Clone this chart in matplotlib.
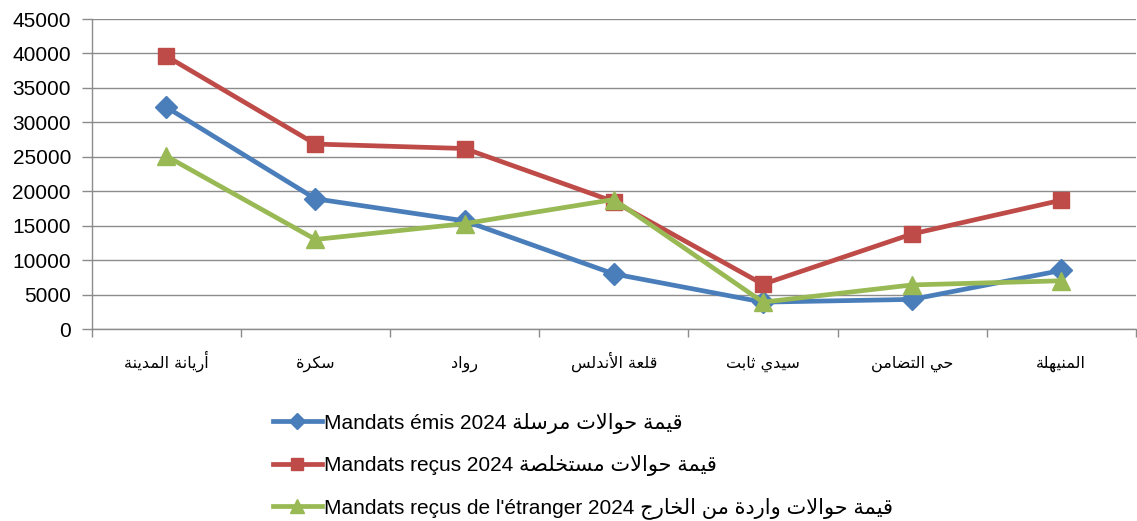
import re
import matplotlib
matplotlib.use("Agg")
import matplotlib.pyplot as plt
from matplotlib.ticker import FixedLocator, MultipleLocator

plt.rcParams['font.family'] = ['Liberation Sans', 'DejaVu Sans']

# données 2024 par délégation
categories = ["أريانة المدينة", "سكرة", "رواد", "قلعة الأندلس", "سيدي ثابت", "حي التضامن", "المنيهلة"]
mandats_emis = [32200, 18900, 15700, 8000, 3900, 4300, 8500]
mandats_recus = [39600, 26850, 26200, 18500, 6500, 13800, 18700]
mandats_etranger = [25100, 13000, 15300, 18800, 3900, 6400, 7000]
labels = [
    "Mandats émis 2024 قيمة حوالات مرسلة",
    "Mandats reçus 2024 قيمة حوالات مستخلصة",
    "Mandats reçus de l'étranger 2024 قيمة حوالات واردة من الخارج",
]

# --- formes contextuelles arabes (iso, fin, ini, med) ---
FORMS = {
    'ا': ('\uFE8D', '\uFE8E'), 'أ': ('\uFE83', '\uFE84'), 'إ': ('\uFE87', '\uFE88'),
    'آ': ('\uFE81', '\uFE82'), 'ة': ('\uFE93', '\uFE94'), 'د': ('\uFEA9', '\uFEAA'),
    'ذ': ('\uFEAB', '\uFEAC'), 'ر': ('\uFEAD', '\uFEAE'), 'ز': ('\uFEAF', '\uFEB0'),
    'و': ('\uFEED', '\uFEEE'), 'ى': ('\uFEEF', '\uFEF0'),
    'ب': ('\uFE8F', '\uFE90', '\uFE91', '\uFE92'), 'ت': ('\uFE95', '\uFE96', '\uFE97', '\uFE98'),
    'ث': ('\uFE99', '\uFE9A', '\uFE9B', '\uFE9C'), 'ج': ('\uFE9D', '\uFE9E', '\uFE9F', '\uFEA0'),
    'ح': ('\uFEA1', '\uFEA2', '\uFEA3', '\uFEA4'), 'خ': ('\uFEA5', '\uFEA6', '\uFEA7', '\uFEA8'),
    'س': ('\uFEB1', '\uFEB2', '\uFEB3', '\uFEB4'), 'ش': ('\uFEB5', '\uFEB6', '\uFEB7', '\uFEB8'),
    'ص': ('\uFEB9', '\uFEBA', '\uFEBB', '\uFEBC'), 'ض': ('\uFEBD', '\uFEBE', '\uFEBF', '\uFEC0'),
    'ط': ('\uFEC1', '\uFEC2', '\uFEC3', '\uFEC4'), 'ظ': ('\uFEC5', '\uFEC6', '\uFEC7', '\uFEC8'),
    'ع': ('\uFEC9', '\uFECA', '\uFECB', '\uFECC'), 'غ': ('\uFECD', '\uFECE', '\uFECF', '\uFED0'),
    'ف': ('\uFED1', '\uFED2', '\uFED3', '\uFED4'), 'ق': ('\uFED5', '\uFED6', '\uFED7', '\uFED8'),
    'ك': ('\uFED9', '\uFEDA', '\uFEDB', '\uFEDC'), 'ل': ('\uFEDD', '\uFEDE', '\uFEDF', '\uFEE0'),
    'م': ('\uFEE1', '\uFEE2', '\uFEE3', '\uFEE4'), 'ن': ('\uFEE5', '\uFEE6', '\uFEE7', '\uFEE8'),
    'ه': ('\uFEE9', '\uFEEA', '\uFEEB', '\uFEEC'), 'ي': ('\uFEF1', '\uFEF2', '\uFEF3', '\uFEF4'),
}
LAM_ALEF = {'ا': ('\uFEFB', '\uFEFC'), 'أ': ('\uFEF7', '\uFEF8'),
            'إ': ('\uFEF9', '\uFEFA'), 'آ': ('\uFEF5', '\uFEF6')}


def shape(text):
    tokens = []
    i = 0
    while i < len(text):
        if text[i] == 'ل' and i + 1 < len(text) and text[i + 1] in LAM_ALEF:
            tokens.append(LAM_ALEF[text[i + 1]])
            i += 2
        else:
            tokens.append(FORMS.get(text[i], text[i]))
            i += 1
    out = []
    for k, t in enumerate(tokens):
        if isinstance(t, str):
            out.append(t)
            continue
        prev = k > 0 and isinstance(tokens[k - 1], tuple) and len(tokens[k - 1]) == 4
        nxt = len(t) == 4 and k + 1 < len(tokens) and isinstance(tokens[k + 1], tuple)
        if prev and nxt:
            out.append(t[3])
        elif nxt:
            out.append(t[2])
        elif prev:
            out.append(t[1])
        else:
            out.append(t[0])
    return ''.join(out)


def visual(s):
    run = r'[\u0600-\u06FF](?:[\u0600-\u06FF ]*[\u0600-\u06FF])?'
    return re.sub(run, lambda m: shape(m.group(0))[::-1], s)


fig = plt.figure(figsize=(11.37, 5.21), dpi=100)
ax = fig.add_axes([0.0807, 0.3685, 0.9183, 0.595])

x = range(len(categories))
series = [
    (mandats_emis, '#4A7EBB', 'D', 11),
    (mandats_recus, '#BE4B48', 's', 12),
    (mandats_etranger, '#98B954', '^', 13),
]
for (vals, col, mk, ms), lab in zip(series, labels):
    ax.plot(x, vals, color=col, lw=3.4, marker=mk, ms=ms, mec=col, mfc=col,
            label=visual(lab), clip_on=False, zorder=3)

ax.set_xlim(-0.5, len(categories) - 0.5)
ax.set_ylim(0, 45000)
ax.yaxis.set_major_locator(MultipleLocator(5000))
ax.grid(axis='y', color='#8C8C8C', lw=1)
ax.set_axisbelow(True)

ax.set_xticks(list(x))
ax.set_xticklabels([visual(c) for c in categories], fontsize=11.5, family=['DejaVu Sans'])
for t in ax.get_xticklabels():
    t.set_verticalalignment('baseline')
ax.xaxis.set_minor_locator(FixedLocator([i - 0.5 for i in range(len(categories) + 1)]))
ax.tick_params(axis='x', which='major', length=0, pad=28)
ax.tick_params(axis='x', which='minor', length=6, color='#8C8C8C', width=1)
ax.tick_params(axis='y', length=7, color='#8C8C8C', width=1, labelsize=15, pad=8)

for side in ['top', 'right']:
    ax.spines[side].set_visible(False)
for side in ['left', 'bottom']:
    ax.spines[side].set_color('#8C8C8C')
    ax.spines[side].set_linewidth(1)

ax.legend(loc='upper left', bbox_to_anchor=(0.240, 0.208), bbox_transform=fig.transFigure,
          frameon=False, fontsize=15, handlelength=2.35, handletextpad=0.12, markerscale=0.75,
          labelspacing=1.02, borderaxespad=0, borderpad=0)

fig.savefig('out.png', dpi=100)
